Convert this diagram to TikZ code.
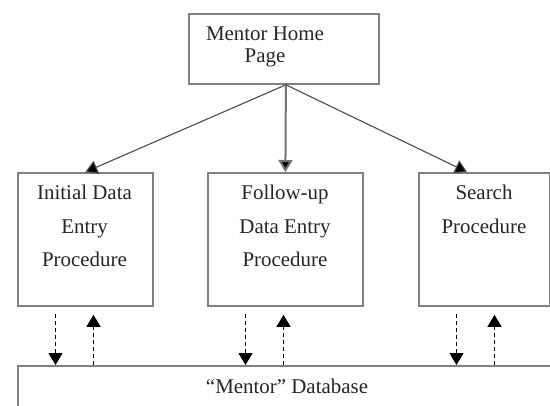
\documentclass[tikz,border=0pt]{standalone}
\usepackage{fontspec}
\setmainfont{Liberation Serif}
\newfontfamily\tnr{Liberation Serif}
\usetikzlibrary{arrows.meta,calc}
\begin{document}
\begin{tikzpicture}[x=1bp,y=-1bp,
  box/.style={draw=black!50, line width=1.8bp, inner sep=0pt, anchor=north west},
  lbl/.style={font=\tnr\fontsize{21}{33.5}\selectfont, align=center, anchor=north, inner sep=0pt, text=black!85},
  toplbl/.style={lbl, font=\tnr\fontsize{21}{21.5}\selectfont},
  >={Triangle[width=14bp,length=12bp,fill=black]},
  solidarrow/.style={->, draw=black!70, line width=1.1bp},
  dasharrow/.style={->, draw=black, line width=1.1bp, dash pattern=on 4bp off 3bp}]
\useasboundingbox (0,0) rectangle (550,405);
\fill[white] (0,0) rectangle (550,405);
% boxes
\node[box, minimum width=190bp, minimum height=70bp] (top) at (188,13) {};
\node[box, minimum width=135bp, minimum height=133bp] (b1) at (17,172) {};
\node[box, minimum width=155bp, minimum height=133bp] (b2) at (207,172) {};
\node[box, minimum width=131bp, minimum height=133bp] (b3) at (418,172) {};
\node[box, minimum width=545bp, minimum height=60bp] (db) at (17,365) {};
% texts
\node[toplbl] (ttop) at (265,27) {Mentor Home\\Page};
\node[lbl] (t1) at (84.5,185) {Initial Data\\Entry\\Procedure};
\node[lbl] (t2) at (285,185) {Follow-up\\Data Entry\\Procedure};
\node[lbl] (t3) at (484,185) {Search\\Procedure};
\node[font=\tnr\fontsize{21}{21.5}\selectfont, anchor=base, inner sep=0pt, text=black!85] (tdb) at (287,393) {“Mentor” Database};
% top arrows
\coordinate (src) at ($(top.south)+(2,0)$);
\coordinate (in3) at ($(b3.north west)+(49,0)$);
\draw[solidarrow] (src) -- (b1.north);
\draw[solidarrow, draw=black!55, line width=2bp] (src) -- (b2.north);
\draw[solidarrow] (src) -- (in3);
% dashed arrows
\foreach \b in {b1,b2,b3}{
  \coordinate (\b d) at ($(\b.south west)+(38.5,7)$);
  \coordinate (\b u) at ($(\b.south west)+(76.5,8)$);
  \draw[dasharrow] (\b d) -- (\b d |- db.north);
  \draw[dasharrow] (\b u |- db.north) -- (\b u);
}
\end{tikzpicture}
\end{document}
